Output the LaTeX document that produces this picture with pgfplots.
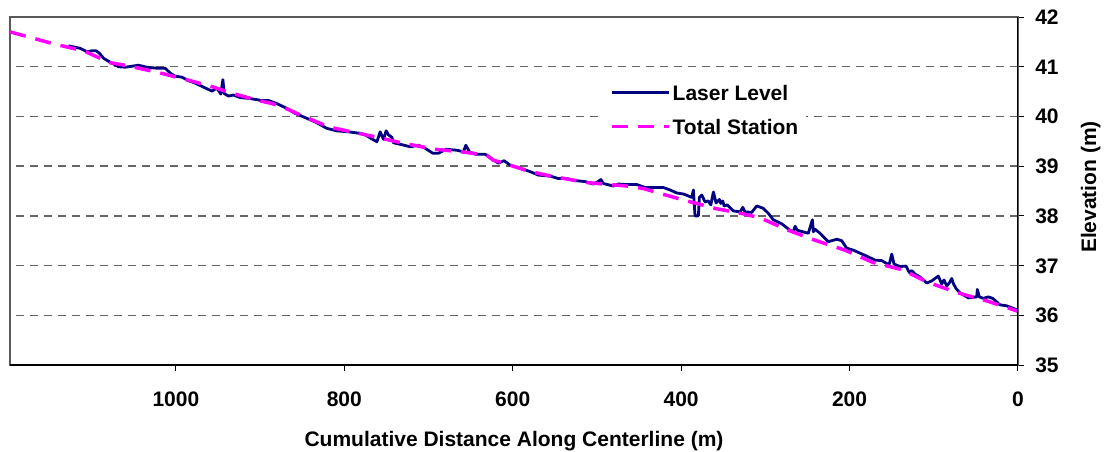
\documentclass[border=0pt]{standalone}
\usepackage{fontspec}
\setmainfont{Liberation Sans}
\usepackage{pgfplots}
\pgfplotsset{compat=1.18}
\definecolor{navyline}{RGB}{0,0,128}
\definecolor{magline}{RGB}{255,0,255}
\newcommand{\bigbf}{\bfseries\fontsize{21bp}{25bp}\selectfont}
\begin{document}
\begin{tikzpicture}
\begin{axis}[
  scale only axis, width=1008bp, height=348bp,
  xmin=0, xmax=1197, ymin=35, ymax=42,
  x dir=reverse,
  xtick={0,200,400,600,800,1000},
  ytick={35,36,37,38,39,40,41,42},
  xtick pos=bottom, xticklabel pos=bottom,
  ytick pos=right, yticklabel pos=right,
  tick align=outside, major tick length=6bp,
  tick style={black, line width=1bp},
  axis line style={black!65, line width=1.2bp},
  ymajorgrids,
  major grid style={black!60, line width=1.3bp, dash pattern=on 8bp off 6bp},
  /pgf/number format/1000 sep={},
  xticklabel style={font=\bigbf, /pgf/number format/assume math mode=true, anchor=center, inner sep=0pt, text height=15bp, text depth=0pt, yshift=-28bp},
  yticklabel style={font=\bigbf, /pgf/number format/assume math mode=true, anchor=center, inner sep=0pt, text height=15bp, text depth=0pt, xshift=23bp},
  xlabel={Cumulative Distance Along Centerline (m)},
  ylabel={Elevation (m)},
  xlabel style={font=\bigbf, at={(axis description cs:0.5,-0.2185)}, anchor=center},
  ylabel style={font=\bigbf, at={(axis description cs:1.0721,0.5115)}, anchor=center, rotate=0},
  legend cell align=left,
  legend image code/.code={\draw[#1] (0bp,2.5bp) -- (57bp,2.5bp);},
  legend style={at={(axis description cs:0.5873,0.8204)}, anchor=north west, fill=white, draw=none,
    inner xsep=8bp, inner ysep=6bp, font=\bigbf, row sep=14.7bp,
    nodes={inner sep=0pt, text height=15bp, text depth=4bp},
    /tikz/every odd column/.append style={column sep=2bp}},
]
\addplot[navyline, line width=2.8bp, line join=round] table {
1127.5 41.42
1113.6 41.37
1105.6 41.30
1099.7 41.32
1094.6 41.32
1090.7 41.27
1085.9 41.17
1078.0 41.09
1068.1 41.00
1060.2 40.99
1044.4 41.03
1034.4 40.99
1022.5 40.97
1012.7 40.97
1006.7 40.87
1000.8 40.81
992.9 40.79
985.0 40.72
977.1 40.67
967.2 40.59
957.2 40.51
951.3 40.57
946.6 40.45
944.2 40.74
942.6 40.46
937.5 40.41
931.6 40.43
923.6 40.38
911.8 40.36
897.9 40.32
890.0 40.32
880.1 40.26
868.2 40.16
858.3 40.06
848.5 39.99
834.6 39.89
820.7 39.76
808.8 39.71
795.1 39.69
781.2 39.66
775.2 39.63
765.4 39.53
761.3 39.49
757.4 39.69
753.5 39.54
750.3 39.71
747.6 39.63
743.5 39.58
741.6 39.47
733.7 39.44
721.8 39.39
712.0 39.42
704.0 39.36
694.9 39.26
688.2 39.26
679.1 39.34
666.4 39.32
658.5 39.29
655.7 39.42
651.4 39.29
644.6 39.24
632.8 39.24
624.8 39.14
617.0 39.06
610.2 39.11
603.1 39.02
591.2 38.96
579.4 38.89
569.5 38.82
555.6 38.80
545.8 38.75
535.8 38.75
525.9 38.71
514.1 38.69
504.2 38.64
499.5 38.68
495.4 38.73
492.3 38.65
480.5 38.60
474.5 38.64
464.6 38.63
452.7 38.63
442.8 38.57
433.0 38.57
421.1 38.57
413.1 38.52
405.2 38.46
397.4 38.44
391.4 38.40
387.4 38.37
385.5 38.52
383.5 38.00
379.5 38.00
378.4 38.37
375.5 38.42
371.6 38.28
367.7 38.30
364.8 38.22
361.7 38.48
358.5 38.26
354.6 38.33
353.0 38.25
350.6 38.30
349.0 38.20
345.1 38.22
338.0 38.10
330.0 38.08
326.8 38.17
324.1 38.08
316.2 38.07
310.2 38.20
302.4 38.15
296.4 38.05
290.5 37.92
280.5 37.84
270.7 37.71
266.8 37.68
264.7 37.79
262.0 37.71
255.6 37.68
249.0 37.65
246.1 37.81
244.2 37.92
243.0 37.68
241.0 37.73
235.1 37.65
225.2 37.48
215.2 37.53
209.3 37.50
203.4 37.35
195.5 37.31
187.6 37.25
179.6 37.19
169.8 37.11
161.8 37.10
155.9 37.04
152.8 37.03
149.9 37.23
147.2 37.03
140.1 36.98
133.0 36.99
129.0 36.86
126.2 36.90
122.3 36.83
116.3 36.77
108.4 36.65
102.5 36.69
98.5 36.74
94.6 36.79
92.6 36.71
90.6 36.63
87.9 36.71
84.6 36.59
81.6 36.65
78.7 36.74
76.8 36.64
73.6 36.54
68.9 36.45
59.0 36.35
49.0 36.37
48.3 36.52
45.9 36.37
41.2 36.34
35.3 36.37
30.0 36.34
21.4 36.21
13.4 36.19
5.6 36.14
0 36.10
};
\addlegendentry{Laser Level}
\addplot[magline, line width=3.5bp, dash pattern=on 16bp off 10bp] table {
1196.7 41.70
1145.3 41.46
1109.7 41.32
1078.0 41.08
1060.2 41.03
1022.5 40.89
983.0 40.72
955.3 40.59
936.3 40.48
901.9 40.32
886.0 40.26
866.3 40.14
852.4 40.03
832.6 39.89
818.8 39.79
797.0 39.71
763.4 39.59
729.8 39.46
692.1 39.34
656.5 39.28
630.8 39.22
622.9 39.12
607.0 39.04
579.4 38.89
551.7 38.79
512.0 38.67
464.6 38.60
444.8 38.55
428.9 38.47
397.4 38.32
359.7 38.15
326.1 38.04
306.3 37.96
272.7 37.71
241.0 37.51
205.4 37.31
171.8 37.06
138.1 36.92
106.5 36.66
70.9 36.45
37.2 36.29
0 36.08
};
\addlegendentry{Total Station}
\draw[black, line width=1.2bp] (axis description cs:0,0) -- (axis description cs:1,0) -- (axis description cs:1,1);
\end{axis}
\pgfresetboundingbox
\path[use as bounding box] (current axis.south west) ++(-10bp,-87bp) rectangle ++(1111bp,452bp);
\end{tikzpicture}
\end{document}
